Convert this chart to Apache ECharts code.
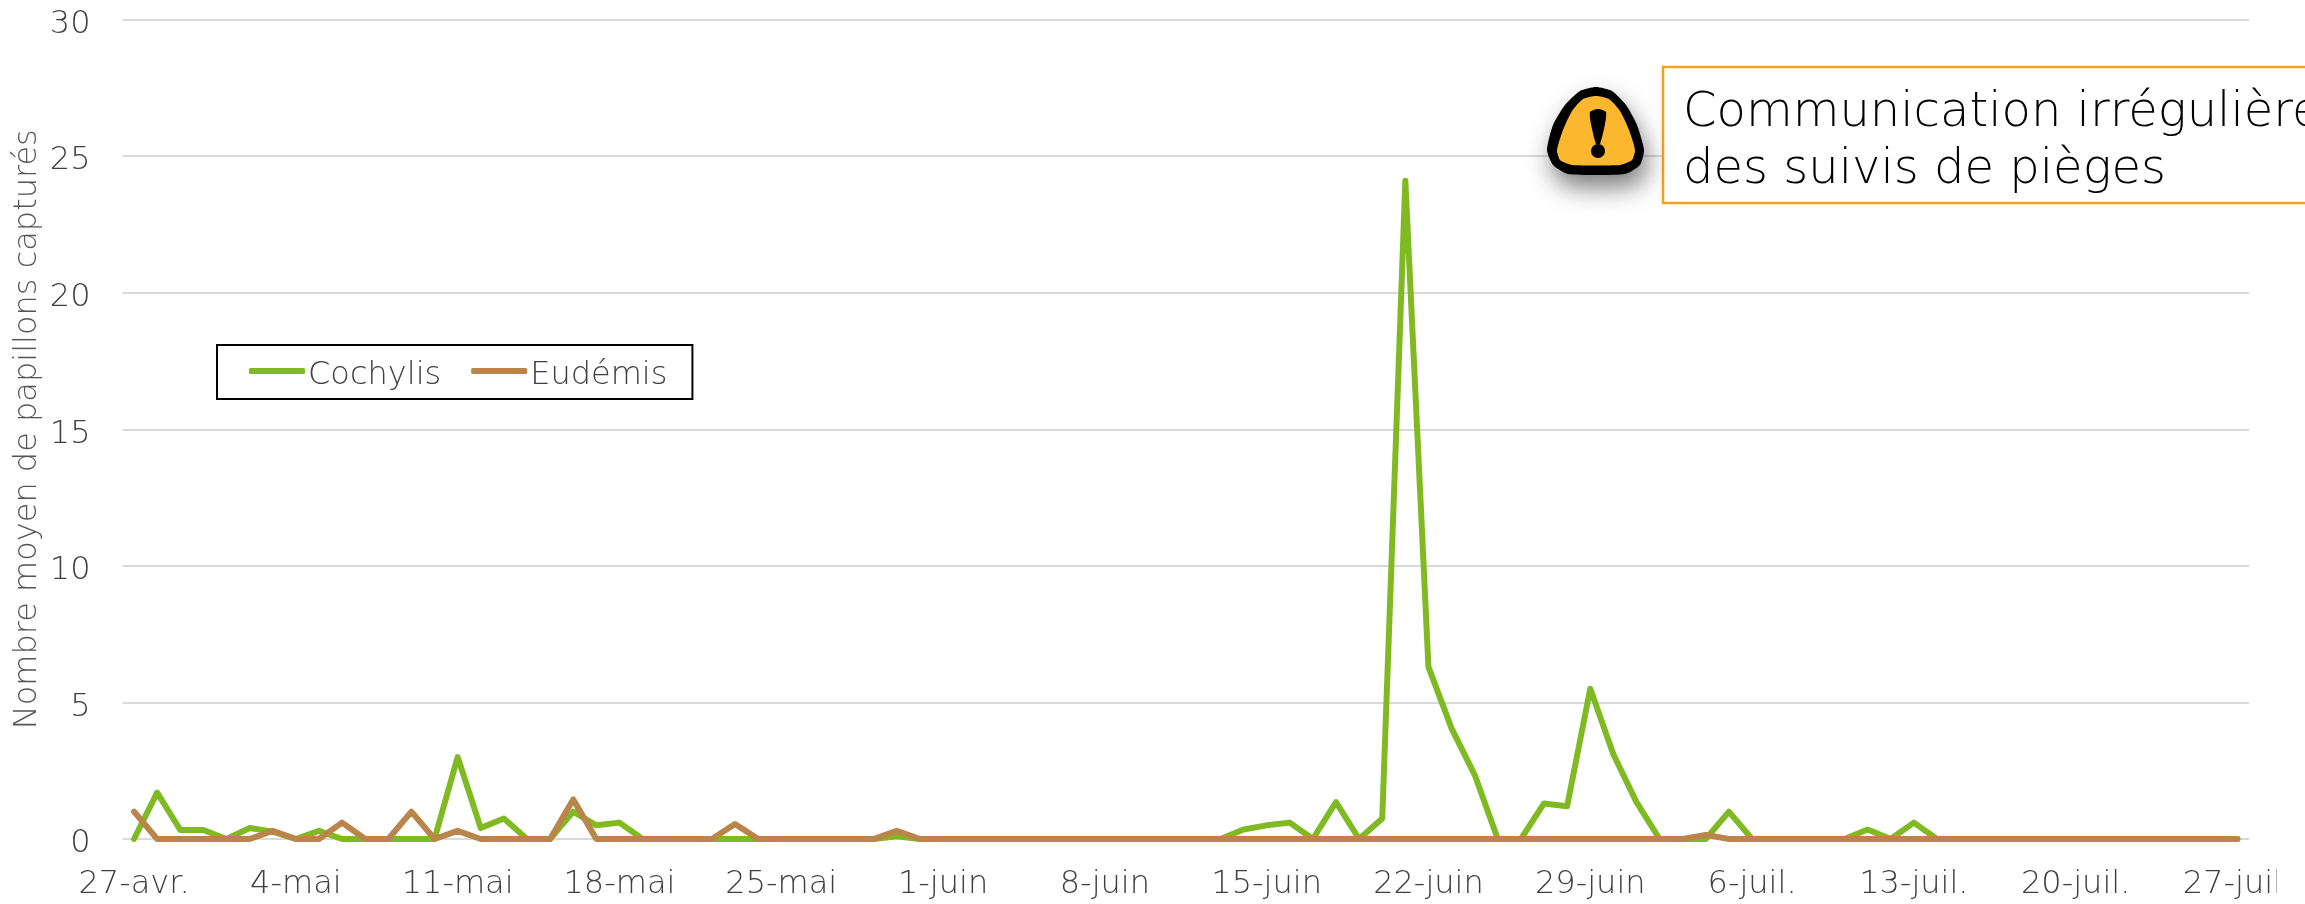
<!DOCTYPE html>
<html><head><meta charset="utf-8">
<style>html,body{margin:0;padding:0;background:#fff;overflow:hidden}#c{width:2305px;height:904px}</style>
<script src="https://cdn.jsdelivr.net/npm/echarts@6/dist/echarts.min.js"></script>
</head><body><div id="c"></div>
<script>
const categories = ["27-avr.","28-avr.","29-avr.","30-avr.","1-mai","2-mai","3-mai","4-mai","5-mai","6-mai","7-mai","8-mai","9-mai","10-mai","11-mai","12-mai","13-mai","14-mai","15-mai","16-mai","17-mai","18-mai","19-mai","20-mai","21-mai","22-mai","23-mai","24-mai","25-mai","26-mai","27-mai","28-mai","29-mai","30-mai","31-mai","1-juin","2-juin","3-juin","4-juin","5-juin","6-juin","7-juin","8-juin","9-juin","10-juin","11-juin","12-juin","13-juin","14-juin","15-juin","16-juin","17-juin","18-juin","19-juin","20-juin","21-juin","22-juin","23-juin","24-juin","25-juin","26-juin","27-juin","28-juin","29-juin","30-juin","1-juil.","2-juil.","3-juil.","4-juil.","5-juil.","6-juil.","7-juil.","8-juil.","9-juil.","10-juil.","11-juil.","12-juil.","13-juil.","14-juil.","15-juil.","16-juil.","17-juil.","18-juil.","19-juil.","20-juil.","21-juil.","22-juil.","23-juil.","24-juil.","25-juil.","26-juil.","27-juil."];
const cochylis = [0,1.7,0.33,0.33,0,0.4,0.27,0,0.3,0,0,0,0,0,3.0,0.4,0.75,0,0,1.0,0.5,0.6,0,0,0,0,0,0,0,0,0,0,0,0.1,0,0,0,0,0,0,0,0,0,0,0,0,0,0,0.35,0.5,0.6,0,1.35,0,0.75,24.1,6.3,4.05,2.35,0,0,1.3,1.2,5.5,3.1,1.35,0,0,0,1.0,0,0,0,0,0,0.35,0,0.6,0,0,0,0,0,0,0,0,0,0,0,0,0,0];
const eudemis = [1.0,0,0,0,0,0,0.3,0,0,0.6,0,0,1.0,0,0.3,0,0,0,0,1.45,0,0,0,0,0,0,0.55,0,0,0,0,0,0,0.3,0,0,0,0,0,0,0,0,0,0,0,0,0,0,0,0,0,0,0,0,0,0,0,0,0,0,0,0,0,0,0,0,0,0,0.15,0,0,0,0,0,0,0,0,0,0,0,0,0,0,0,0,0,0,0,0,0,0,0];
const yTicks = {min:0,max:30,interval:5};
const seriesNames = ["Cochylis","Eudémis"];
const yTitle = "Nombre moyen de papillons capturés";
const noteText = "Communication irrégulière\ndes suivis de pièges";

const FONT = '"DejaVu Sans"';
const W = 200;
const TXT = '#404040';
const richText = {fontFamily:FONT,fontWeight:W,fontSize:32,color:TXT,padding:[10,0,0,0]};
const chart = echarts.init(document.getElementById('c'),null,{renderer:'canvas'});
chart.setOption({
  animation:false,
  backgroundColor:'#fff',
  grid:{left:122.5,right:56,top:19.5,bottom:65,containLabel:false},
  legend:{left:217,top:345,orient:'horizontal',data:seriesNames,icon:'roundRect',itemWidth:56,itemHeight:6,itemGap:30,
    padding:[15,25,7,32],borderColor:'#000',borderWidth:2,formatter:'{a|{name}}',
    textStyle:{fontFamily:FONT,fontWeight:W,fontSize:32,color:TXT,padding:[0,0,0,-2],rich:{a:richText}}},
  xAxis:{type:'category',data:categories,boundaryGap:true,
    axisLine:{show:false},axisTick:{show:false},splitLine:{show:false},
    axisLabel:{interval:6,hideOverlap:false,margin:30,fontFamily:FONT,fontWeight:W,fontSize:32,color:TXT}},
  yAxis:{type:'value',min:yTicks.min,max:yTicks.max,interval:yTicks.interval,
    name:yTitle,nameLocation:'middle',nameGap:79,nameRotate:90,nameMoveOverlap:false,
    nameTextStyle:{fontFamily:FONT,fontWeight:W,fontSize:32,color:'#555'},
    axisLine:{show:false},axisTick:{show:false},
    splitLine:{lineStyle:{color:'#d9d9d9',width:2}},
    axisLabel:{margin:32,formatter:'{a|{value}}',rich:{a:richText}}},
  series:[
    {name:seriesNames[0],type:'line',data:cochylis,showSymbol:false,symbol:'none',smooth:false,
     lineStyle:{color:'#7FBA23',width:6,cap:'round',join:'round'},itemStyle:{color:'#7FBA23'}},
    {name:seriesNames[1],type:'line',data:eudemis,showSymbol:false,symbol:'none',smooth:false,
     lineStyle:{color:'#B9854A',width:6,cap:'round',join:'round'},itemStyle:{color:'#B9854A'}}
  ],
  graphic:[
    {type:'rect',z:50,shape:{x:2277,y:860,width:28,height:44},style:{fill:'#fff'}},
    {type:'rect',z:50,shape:{x:1663,y:67,width:800,height:136},
     style:{fill:'#fff',stroke:'#F0A41E',lineWidth:2.5}},
    {type:'text',z:51,style:{x:1683,y:85,text:noteText,fontFamily:FONT,fontWeight:W,fontSize:48,lineHeight:57,fill:'#000'}},
    {type:'polygon',z:52,shape:{smooth:0.2,points:[[1596,87],[1612,91],[1626,105],[1637,125],[1644,150],[1640,165],[1625,174],[1568,174],[1553,165],[1547,150],[1553,125],[1565,105],[1580,91]]},
     style:{fill:'#000',shadowColor:'rgba(0,0,0,0.5)',shadowBlur:24,shadowOffsetY:13,shadowOffsetX:4}},
    {type:'polygon',z:53,shape:{smooth:0.2,points:[[1596,96],[1609,99],[1620,111],[1629,130],[1635,150],[1632,160],[1620,165],[1572,165],[1560,160],[1557,150],[1563,130],[1572,111],[1583,99]]},
     style:{fill:'#FBB82F'}},
    {type:'polygon',z:54,shape:{smooth:0.2,points:[[1598,109],[1606,112],[1605,124],[1600,144],[1596,144],[1591,124],[1590,112]]},style:{fill:'#000'}},
    {type:'circle',z:54,shape:{cx:1598,cy:151,r:7},style:{fill:'#000'}}
  ]
});
</script></body></html>
